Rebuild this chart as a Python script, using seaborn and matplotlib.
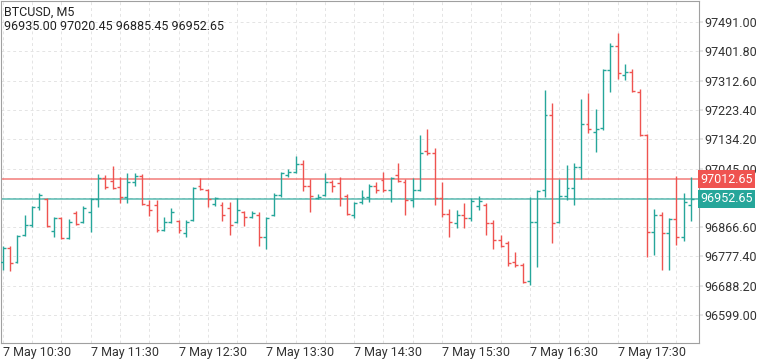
import numpy as np
import pandas as pd
import matplotlib
matplotlib.use('Agg')
import matplotlib.pyplot as plt
import matplotlib.transforms as mtransforms
import seaborn as sns

# BTCUSD M5 bars, 7 May 10:30 -> 18:20
opens = [96760.5, 96803.0, 96760.5, 96842.7, 96873.1, 96927.9, 96952.2, 96854.9, 96894.4, 96833.5,
         96909.7, 96882.2, 96912.7, 96952.2, 97016.1, 97007.1, 96988.8, 96958.3, 97004.0, 97022.2,
         96934.0, 96934.0, 96857.9, 96882.2, 96885.3, 96848.8, 96888.3, 96991.8, 96979.6, 96937.0,
         96934.0, 96924.8, 96882.2, 96912.7, 96897.5, 96903.6, 96836.6, 96903.6, 96964.4, 97025.3,
         97034.4, 97058.8, 96991.8, 96955.2, 96964.4, 97004.0, 97001.0, 96961.3, 96903.6, 96943.1,
         96958.3, 96991.8, 97010.1, 96979.6, 97025.3, 97004.0, 96949.2, 96979.6, 97098.4, 97092.3,
         96955.2, 96906.6, 96879.2, 96903.6, 96894.4, 96930.9, 96934.0, 96879.2, 96827.4, 96818.3,
         96760.5, 96751.4, 96702.7, 96882.2, 96979.6, 97208.0, 96882.2, 96961.3, 96985.7, 97049.7,
         97180.5, 97156.2, 97168.3, 97344.9, 97417.9, 97329.7, 97338.8, 97277.9, 97147.1, 96851.8,
         96903.6, 96848.8, 96891.4, 96836.6, 96935.00]
highs = [96809.1, 96809.1, 96842.7, 96903.6, 96930.9, 96970.5, 96955.2, 96897.5, 96897.5, 96891.4,
         96915.8, 96930.9, 96955.2, 97028.3, 97025.3, 97052.7, 97019.2, 97031.4, 97031.4, 97028.3,
         96949.2, 96949.2, 96897.5, 96924.8, 96888.3, 96888.3, 96988.8, 97016.1, 96982.7, 96958.3,
         96943.1, 96943.1, 96955.2, 96915.8, 96915.8, 96912.7, 96897.5, 96970.5, 97034.4, 97043.6,
         97083.1, 97071.0, 97013.1, 96967.4, 97031.4, 97010.1, 97019.2, 96967.4, 96943.1, 96979.6,
         96997.9, 97004.0, 97034.4, 97019.2, 97061.9, 97013.1, 97016.1, 97147.1, 97165.3, 97107.4,
         97004.0, 96921.8, 96918.8, 96940.1, 96955.2, 96961.3, 96940.1, 96888.3, 96842.7, 96824.4,
         96790.9, 96757.5, 96958.3, 96979.6, 97284.0, 97244.5, 97013.1, 97055.8, 97061.9, 97256.6,
         97274.9, 97226.2, 97348.0, 97427.1, 97457.6, 97363.2, 97348.0, 97287.1, 97150.1, 96921.8,
         96912.7, 96894.4, 97022.2, 96970.5, 97020.45]
lows = [96736.1, 96733.1, 96757.5, 96839.6, 96867.0, 96918.8, 96867.0, 96836.6, 96830.5, 96830.5,
        96873.1, 96879.2, 96851.8, 96927.9, 96982.7, 96982.7, 96940.1, 96940.1, 96991.8, 96934.0,
        96900.5, 96851.8, 96854.9, 96879.2, 96848.8, 96836.6, 96885.3, 96979.6, 96927.9, 96930.9,
        96885.3, 96842.7, 96879.2, 96870.0, 96894.4, 96809.1, 96800.0, 96900.5, 96958.3, 97019.2,
        97031.4, 96976.6, 96912.7, 96952.2, 96961.3, 96973.5, 96930.9, 96903.6, 96894.4, 96937.0,
        96943.1, 96970.5, 96973.5, 96943.1, 97004.0, 96903.6, 96927.9, 96976.6, 97086.2, 96934.0,
        96897.5, 96836.6, 96863.9, 96863.9, 96885.3, 96918.8, 96842.7, 96800.0, 96806.1, 96748.3,
        96745.3, 96696.6, 96690.5, 96745.3, 96958.3, 96818.3, 96879.2, 96949.2, 96934.0, 97013.1,
        97153.2, 97095.3, 97162.3, 97277.9, 97317.5, 97314.5, 97277.9, 97144.0, 96775.7, 96781.8,
        96736.1, 96736.1, 96812.2, 96824.4, 96885.45]
closes = [96803.0, 96757.5, 96839.6, 96873.1, 96927.9, 96964.4, 96870.0, 96894.4, 96833.5, 96882.2,
          96876.1, 96924.8, 96952.2, 97016.1, 96988.8, 96985.7, 96958.3, 97004.0, 97022.2, 96937.0,
          96918.8, 96857.9, 96882.2, 96912.7, 96857.9, 96882.2, 96985.7, 96982.7, 96952.2, 96955.2,
          96903.6, 96873.1, 96918.8, 96897.5, 96909.7, 96836.6, 96894.4, 96964.4, 97031.4, 97034.4,
          97058.8, 96991.8, 96961.3, 96958.3, 97004.0, 96991.8, 96955.2, 96906.6, 96940.1, 96958.3,
          96991.8, 96979.6, 96979.6, 97016.1, 97007.1, 96949.2, 96979.6, 97092.3, 97092.3, 96955.2,
          96906.6, 96882.2, 96903.6, 96894.4, 96946.2, 96946.2, 96879.2, 96827.4, 96809.1, 96757.5,
          96751.4, 96699.6, 96882.2, 96976.6, 97208.0, 96879.2, 96961.3, 96985.7, 97049.7, 97180.5,
          97165.3, 97165.3, 97344.9, 97417.9, 97335.8, 97338.8, 97281.0, 97147.1, 96851.8, 96903.6,
          96848.8, 96891.4, 96836.6, 96943.1, 96952.65]

time_labels = ['7 May 10:30', '7 May 11:30', '7 May 12:30', '7 May 13:30',
               '7 May 14:30', '7 May 15:30', '7 May 16:30', '7 May 17:30']
price_ticks = [96599.00, 96688.20, 96777.40, 96866.60, 96955.80, 97045.00,
               97134.20, 97223.40, 97312.60, 97401.80, 97491.00]
ask_price = 97012.65
bid_price = 96952.65

UP = '#26a69a'
DOWN = '#ef5350'

df = pd.DataFrame({'open': opens, 'high': highs, 'low': lows, 'close': closes})
df['bar'] = np.arange(len(df))
df['color'] = np.where(df['close'] >= df['open'], UP, DOWN)

sns.set_theme(style='white')
plt.rcParams['font.family'] = ['Roboto', 'DejaVu Sans']

fig = plt.figure(figsize=(7.65, 3.6), dpi=100)
ax = fig.add_axes([1 / 765, 17 / 360, 698 / 765, 342 / 360])

# grid
ax.set_xticks(np.arange(0, len(df), 4), minor=True)
ax.set_xticks(np.arange(0, len(df), 12))
ax.set_xticklabels(time_labels, ha='left')
ax.set_yticks(price_ticks)
# the tick under the bid price box is hidden in the terminal
ax.set_yticklabels(['' if abs(p - bid_price) < 10 else '%.2f' % p for p in price_ticks])
ax.grid(True, which='both', color='#e4e4e4', linestyle=(0, (3, 3)), linewidth=0.7)
ax.set_axisbelow(True)

# OHLC bars
ax.vlines(df['bar'], df['low'], df['high'], colors=df['color'], linewidth=1.0, zorder=3)
ax.hlines(df['open'], df['bar'] - 0.4, df['bar'], colors=df['color'], linewidth=1.0, zorder=3)
ax.hlines(df['close'], df['bar'], df['bar'] + 0.4, colors=df['color'], linewidth=1.0, zorder=3)

# ask / bid lines
ax.axhline(ask_price, color=DOWN, linewidth=1.2, alpha=0.7, zorder=2)
ax.axhline(bid_price, color=UP, linewidth=1.2, alpha=0.7, zorder=2)

ax.set_xlim(-0.25, 95.1)
ax.set_ylim(96514, 97555)

ax.yaxis.tick_right()
ax.tick_params(axis='y', which='major', length=3, color='#e4e4e4', pad=1,
               labelsize=9, labelcolor='#333333')
ax.tick_params(axis='x', which='major', length=2, color='#9e9e9e', pad=0,
               labelsize=9, labelcolor='#333333')
ax.tick_params(axis='x', which='minor', length=0)
for s in ax.spines.values():
    s.set_color('#a0a0a0')
    s.set_linewidth(0.8)
ax.set_xlabel('')
ax.set_ylabel('')

trans = mtransforms.blended_transform_factory(ax.transAxes, ax.transData)
for price, col in [(ask_price, DOWN), (bid_price, UP)]:
    ax.text(1.0015, price, '%.2f' % price, transform=trans, ha='left', va='center',
            color='white', fontsize=9, zorder=6, clip_on=False,
            bbox=dict(boxstyle='square,pad=0.2', fc=col, ec='none'))

ax.text(0.004, 0.966, 'BTCUSD, M5', transform=ax.transAxes, ha='left', va='center',
        fontsize=9, color='#222222')
ax.text(0.004, 0.924, '%.2f %.2f %.2f %.2f' % (opens[-1], highs[-1], lows[-1], closes[-1]),
        transform=ax.transAxes, ha='left', va='center', fontsize=9, color='#222222')

fig.savefig('out.png', dpi=100)
